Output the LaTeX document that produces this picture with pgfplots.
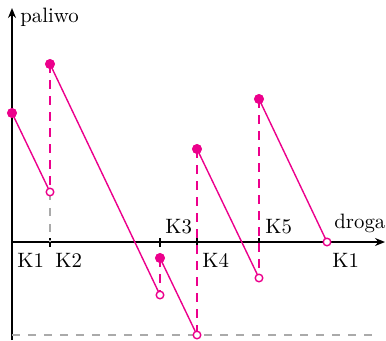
\documentclass[border=0pt]{standalone}
\usepackage{pgfplots}
\pgfplotsset{compat=1.18}
\usetikzlibrary{arrows.meta}
\definecolor{mag}{RGB}{236,0,140}
\definecolor{dgray}{RGB}{170,170,170}
\begin{document}
\begin{tikzpicture}[
    lbl/.style={anchor=base west, inner sep=0pt, font=\fontsize{10.4}{12}\selectfont},
    gguide/.style={dash pattern=on 4pt off 4pt, line width=0.9pt},
    mguide/.style={dash pattern=on 4.5pt off 3.5pt, line width=0.8pt},
]
\begin{axis}[
    x=0.5pt, y=0.5pt,
    axis lines=middle,
    axis line style={line width=0.75pt, -{Stealth[length=5pt,width=4pt]}},
    xmin=0, xmax=373,
    ymin=-98, ymax=234,
    xtick={38,148,185,247},
    xticklabels={},
    ytick=\empty,
    xtick align=center,
    major tick length=4.5pt,
    tick style={black, line width=0.6pt},
    clip=false,
]
% bounding frame of the reference
\path (axis cs:-12,-98) rectangle (axis cs:374,242);
% dashed guides
\addplot[dgray, gguide] coordinates {(0,-93) (360,-93)};
\addplot[dgray, gguide] coordinates {(38,50) (38,0)};
\addplot[mag, mguide] coordinates {(38,178) (38,50)};
\addplot[mag, mguide] coordinates {(148,-16) (148,-53)};
\addplot[mag, mguide] coordinates {(185,93) (185,-93)};
\addplot[mag, mguide] coordinates {(247,143) (247,-36)};
% fuel segments
\addplot[mag, line width=0.7pt] coordinates {(0,129) (38,50)};
\addplot[mag, line width=0.7pt] coordinates {(38,178) (148,-53)};
\addplot[mag, line width=0.7pt] coordinates {(148,-16) (185,-93)};
\addplot[mag, line width=0.7pt] coordinates {(185,93) (247,-36)};
\addplot[mag, line width=0.7pt] coordinates {(247,143) (315,0)};
% filled and open ends
\addplot[only marks, mark=*, mark size=2.3pt, mag] coordinates {
    (0,129) (38,178) (148,-16) (185,93) (247,143)};
\addplot[only marks, mark=*, mark size=1.9pt, draw=mag, fill=white, line width=0.7pt] coordinates {
    (38,50) (148,-53) (185,-93) (247,-36) (315,0)};
% labels
\node[lbl] at (axis cs:8,220) {paliwo};
\node[lbl] at (axis cs:322,14) {droga};
\node[lbl] at (axis cs:5,-25) {K1};
\node[lbl] at (axis cs:43,-25) {K2};
\node[lbl] at (axis cs:153,9) {K3};
\node[lbl] at (axis cs:190,-25) {K4};
\node[lbl] at (axis cs:253,9) {K5};
\node[lbl] at (axis cs:320,-25) {K1};
\end{axis}
\end{tikzpicture}
\end{document}
